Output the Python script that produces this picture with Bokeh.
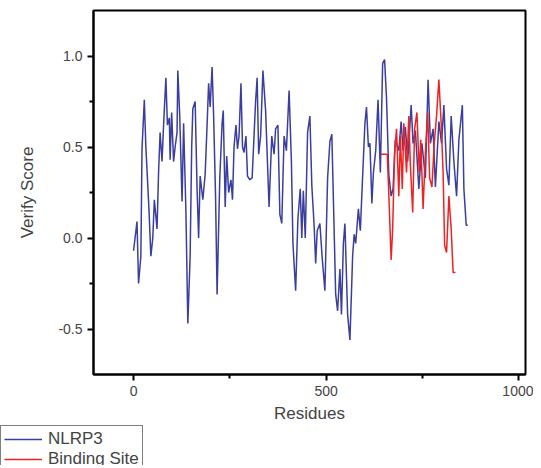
from bokeh.embed import file_html
from bokeh.layouts import column, row
from bokeh.models import FixedTicker, Legend, LegendItem, NumeralTickFormatter
from bokeh.plotting import figure
from bokeh.resources import INLINE

# NLRP3 verify score per residue
nlrp3_res = [0, 9, 13, 19, 22, 28, 32, 40, 45, 50, 54, 61, 65, 69, 74, 78, 84, 88, 93, 95,
             99, 104, 108, 113, 115, 120, 126, 130, 136, 141, 147, 151, 154, 160, 165, 169,
             173, 180, 186, 191, 195, 199, 204, 208, 213, 217, 224, 230, 233, 238, 242, 247,
             253, 257, 261, 266, 270, 274, 279, 283, 287, 292, 296, 302, 308, 317, 321, 325,
             330, 336, 343, 352, 359, 365, 369, 375, 380, 385, 391, 397, 404, 410, 414, 421,
             427, 433, 437, 441, 446, 452, 458, 463, 469, 473, 477, 484, 490, 497, 504, 510,
             515, 521, 525, 530, 536, 540, 545, 549, 556, 562, 569, 573, 577, 584, 589, 595,
             601, 605, 610, 614, 619, 623, 629, 635, 641, 647, 652, 657, 663, 669, 674, 680,
             689, 695, 700, 706, 712, 721, 726, 732, 741, 749, 758, 765, 771, 778, 784, 793,
             800, 806, 813, 819, 825, 832, 839, 845, 854, 858, 864, 868]
nlrp3_score = [-0.07, 0.09, -0.25, -0.10, 0.49, 0.76, 0.50, 0.16, -0.10, 0.00, 0.21, 0.05,
               0.36, 0.58, 0.42, 0.62, 0.88, 0.62, 0.66, 0.43, 0.69, 0.42, 0.50, 0.58, 0.92,
               0.67, 0.20, 0.63, 0.15, -0.47, -0.10, 0.50, 0.71, 0.75, 0.27, 0.00, 0.34, 0.21,
               0.35, 0.62, 0.85, 0.72, 0.94, 0.67, 0.23, -0.31, 0.33, 0.63, 0.70, 0.17, 0.45,
               0.25, 0.32, 0.21, 0.50, 0.62, 0.49, 0.56, 0.85, 0.50, 0.47, 0.56, 0.34, 0.32,
               0.33, 0.75, 0.88, 0.46, 0.56, 0.92, 0.70, 0.17, 0.56, 0.46, 0.60, 0.62, 0.13,
               0.08, 0.56, 0.48, 0.81, 0.42, -0.03, -0.29, 0.11, 0.27, 0.00, 0.26, 0.00, 0.58,
               0.67, 0.29, 0.07, -0.14, 0.04, 0.08, -0.11, -0.29, 0.33, 0.53, 0.57, 0.04,
               -0.31, -0.40, -0.17, -0.42, -0.03, 0.08, -0.42, -0.56, -0.10, 0.02, -0.03,
               0.16, 0.04, 0.34, 0.63, 0.72, 0.50, 0.52, 0.19, 0.36, 0.48, 0.76, 0.36, 0.96,
               0.98, 0.77, 0.35, 0.23, 0.27, 0.54, 0.48, 0.64, 0.48, 0.61, 0.42, 0.73, 0.52,
               0.59, 0.27, 0.52, 0.33, 0.87, 0.52, 0.60, 0.28, 0.64, 0.52, 0.73, 0.38, 0.29,
               0.67, 0.42, 0.23, 0.54, 0.73, 0.27, 0.07, 0.07]

# binding site segment
site_res = [642, 659, 663, 669, 673, 678, 683, 689, 693, 698, 702, 709, 715, 719, 725, 730,
            736, 742, 746, 752, 758, 764, 769, 775, 781, 787, 793, 799, 804, 808, 813, 819,
            825, 830, 836]
site_score = [0.46, 0.46, 0.24, -0.12, 0.05, 0.47, 0.60, 0.23, 0.56, 0.27, 0.63, 0.36, 0.67,
              0.40, 0.14, 0.60, 0.69, 0.36, 0.54, 0.16, 0.47, 0.69, 0.33, 0.28, 0.52, 0.67,
              0.87, 0.63, 0.36, -0.04, -0.08, 0.23, 0.05, -0.19, -0.19]

FONT = "Liberation Sans"
BLUE = "#3a3ea0"
RED = "#ee2222"

p = figure(width=533, height=425, output_backend="svg", toolbar_location=None,
           x_range=(-104, 1018), y_range=(-0.75, 1.25),
           x_axis_label="Residues", y_axis_label="Verify Score",
           min_border_left=93, min_border_right=8, min_border_top=10, min_border_bottom=35)
p.grid.visible = False
p.outline_line_color = "black"
p.outline_line_width = 2

p.line(nlrp3_res, nlrp3_score, line_color=BLUE, line_width=1.5)
p.line(site_res, site_score, line_color=RED, line_width=1.5)

p.xaxis.ticker = FixedTicker(ticks=[0, 500, 1000], minor_ticks=[250, 750])
p.yaxis.ticker = FixedTicker(ticks=[-0.5, 0.0, 0.5, 1.0], minor_ticks=[-0.25, 0.25, 0.75])
p.yaxis.formatter = NumeralTickFormatter(format="0.0")
for ax in (p.xaxis, p.yaxis):
    ax.axis_line_width = 2
    ax.major_tick_line_width = 2
    ax.minor_tick_line_width = 2
    ax.major_tick_out = 6
    ax.major_tick_in = 0
    ax.minor_tick_out = 4
    ax.minor_tick_in = 0
    ax.major_label_text_font = FONT
    ax.major_label_text_font_size = "14px"
    ax.axis_label_text_font = FONT
    ax.axis_label_text_font_size = "17px"
    ax.axis_label_text_font_style = "normal"
p.yaxis.axis_label_standoff = 18
p.xaxis.axis_label_standoff = 5

# legend lives in its own strip below the plot
lg = figure(width=533, height=40, output_backend="svg", toolbar_location=None,
            x_range=(0, 1), y_range=(0, 1), min_border=0)
lg.axis.visible = False
lg.grid.visible = False
lg.outline_line_color = None
b = lg.line([5, 6], [5, 6], line_color=BLUE, line_width=1.5)
r = lg.line([5, 6], [5, 6], line_color=RED, line_width=1.5)
legend = Legend(items=[LegendItem(label="NLRP3", renderers=[b]),
                       LegendItem(label="Binding Site", renderers=[r])],
                location="top_left", label_text_font=FONT, label_text_font_size="17px",
                border_line_color="black", border_line_width=1, glyph_width=38,
                padding=3, spacing=0, margin=0, label_height=19, label_standoff=6)
lg.add_layout(legend)

open("out.html", "w").write(file_html(column(p, row(lg), spacing=0), INLINE))
